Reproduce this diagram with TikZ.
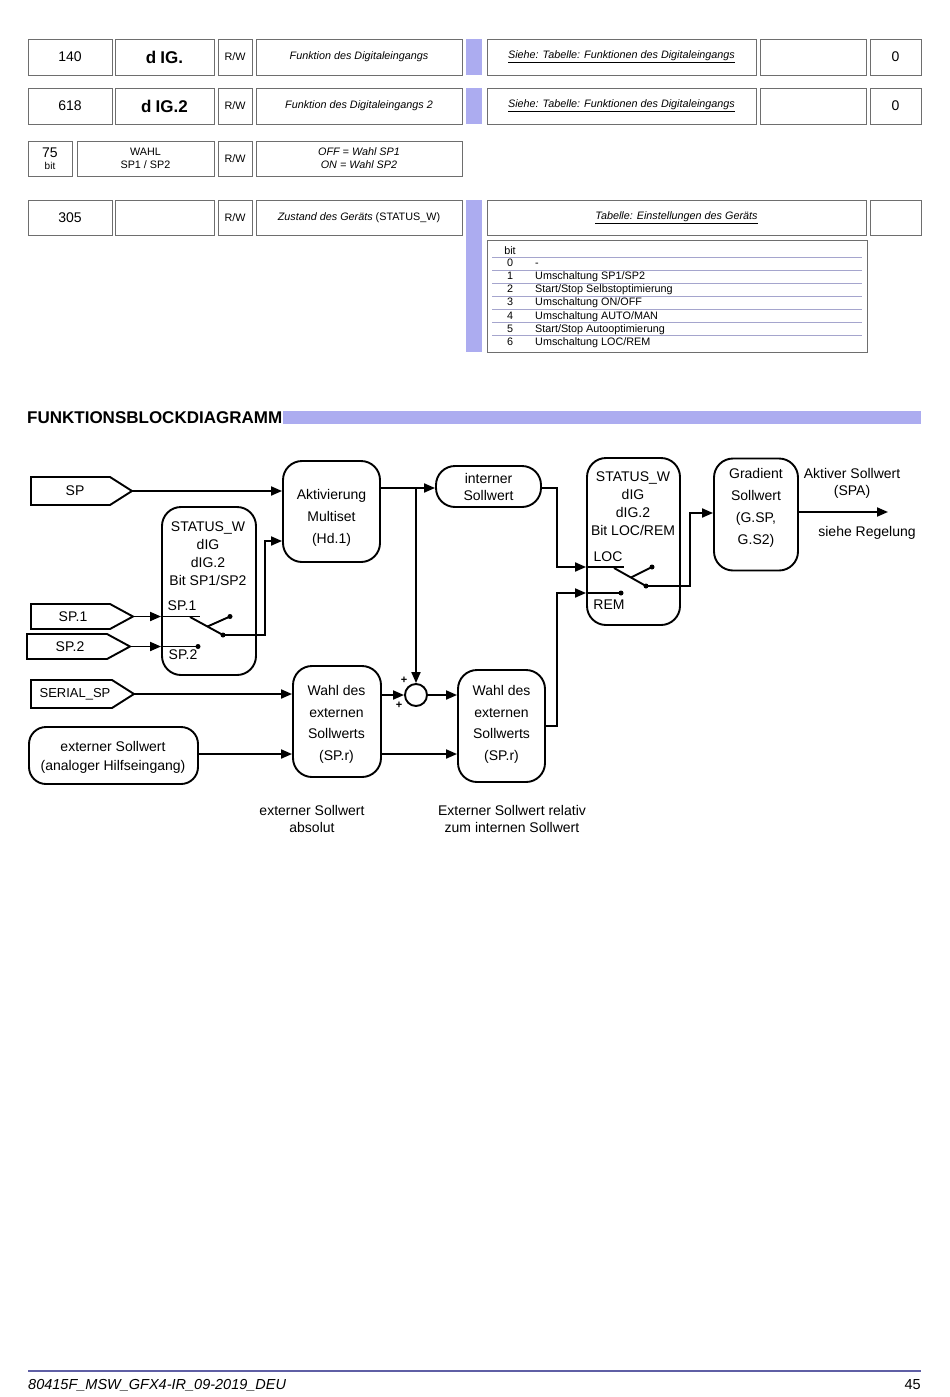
\documentclass[tikz,border=0pt]{standalone}
\usepackage{fontspec}
\setmainfont{Liberation Sans}
\usetikzlibrary{arrows.meta}
\definecolor{lav}{RGB}{172,172,240}
\definecolor{cellgray}{RGB}{110,110,110}
\definecolor{rulelav}{RGB}{165,165,205}
\definecolor{footblue}{RGB}{95,95,165}
\begin{document}
\begin{tikzpicture}[x=1pt,y=-1pt,
  cell/.style={draw=cellgray, line width=0.9pt, inner sep=0pt, align=center, font=\fontsize{10.8}{13}\selectfont},
  bar/.style={fill=lav, inner sep=0pt},
  wire/.style={line width=1.9pt},
  arr/.style={wire, -{Triangle[length=11pt,width=9pt]}},
  rbox/.style={draw, line width=1.9pt, rounded corners=19pt, inner sep=0pt},
  dtext/.style={inner sep=0pt, align=center, font=\fontsize{14}{16}\selectfont},
  tag/.style={draw, line width=1.9pt, line join=miter},
  dot/.style={circle, fill, inner sep=0pt, minimum size=5pt},
  btxt/.style={inner sep=0pt, font=\fontsize{10.8}{12}\selectfont}
]
\useasboundingbox (0,0) rectangle (950,1397);
\fill[white] (0,0) rectangle (950,1397);

% ---------- row 1 ----------
\node[cell, minimum width=84pt, minimum height=36pt] (r1a) at (70,57) {\fontsize{14}{16}\selectfont 140};
\node[cell, minimum width=99pt, minimum height=36pt] (r1b) at (164.5,57) {\fontsize{17}{17}\selectfont\bfseries d\hspace{4pt}IG.};
\node[cell, minimum width=34pt, minimum height=36pt] (r1c) at (235,57) {R/W};
\node[cell, minimum width=206pt, minimum height=36pt] (r1d) at (359,57) {\itshape Funktion des Digitaleingangs};
\node[bar, minimum width=16pt, minimum height=36pt] (r1bar) at (474,57) {};
\node[cell, minimum width=269pt, minimum height=36pt] (r1e) at (621.5,57) {\itshape\underline{Siehe: Tabelle: Funktionen des Digitaleingangs}};
\node[cell, minimum width=106pt, minimum height=36pt] (r1f) at (813,57) {};
\node[cell, minimum width=51pt, minimum height=36pt] (r1g) at (895.5,57) {\fontsize{14}{16}\selectfont 0};

% ---------- row 2 ----------
\node[cell, minimum width=84pt, minimum height=36pt] (r2a) at (70,106) {\fontsize{14}{16}\selectfont 618};
\node[cell, minimum width=99pt, minimum height=36pt] (r2b) at (164.5,106) {\fontsize{17}{17}\selectfont\bfseries d\hspace{4pt}IG.2};
\node[cell, minimum width=34pt, minimum height=36pt] (r2c) at (235,106) {R/W};
\node[cell, minimum width=206pt, minimum height=36pt] (r2d) at (359,106) {\itshape Funktion des Digitaleingangs 2};
\node[bar, minimum width=16pt, minimum height=36pt] (r2bar) at (474,106) {};
\node[cell, minimum width=269pt, minimum height=36pt] (r2e) at (621.5,106) {\itshape\underline{Siehe: Tabelle: Funktionen des Digitaleingangs}};
\node[cell, minimum width=106pt, minimum height=36pt] (r2f) at (813,106) {};
\node[cell, minimum width=51pt, minimum height=36pt] (r2g) at (895.5,106) {\fontsize{14}{16}\selectfont 0};

% ---------- row 3 ----------
\node[cell, minimum width=44pt, minimum height=35pt] (r3a) at (50,158.5) {{\fontsize{14}{14}\selectfont 75}\\[-1pt]{\fontsize{10}{11}\selectfont bit}};
\node[cell, minimum width=137pt, minimum height=35pt] (r3b) at (145.5,158.5) {WAHL\\SP1 / SP2};
\node[cell, minimum width=34pt, minimum height=35pt] (r3c) at (235,158.5) {R/W};
\node[cell, minimum width=206pt, minimum height=35pt] (r3d) at (359,158.5) {\itshape OFF = Wahl SP1\\\itshape ON = Wahl SP2};

% ---------- row 4 ----------
\node[cell, minimum width=84pt, minimum height=35pt] (r4a) at (70,217.5) {\fontsize{14}{16}\selectfont 305};
\node[cell, minimum width=99pt, minimum height=35pt] (r4b) at (164.5,217.5) {};
\node[cell, minimum width=34pt, minimum height=35pt] (r4c) at (235,217.5) {R/W};
\node[cell, minimum width=206pt, minimum height=35pt] (r4d) at (359,217.5) {\textit{Zustand des Geräts} (STATUS\_W)};
\node[bar, minimum width=16pt, minimum height=152pt] (r4bar) at (474,276) {};
\node[cell, minimum width=379pt, minimum height=35pt] (r4e) at (676.5,217.5) {\itshape\underline{Tabelle: Einstellungen des Geräts}};
\node[cell, minimum width=51pt, minimum height=35pt] (r4g) at (895.5,217.5) {};

% ---------- bit table ----------
\node[cell, minimum width=380pt, minimum height=112pt] (bt) at (677,296) {};
\foreach \k in {0,...,6} {
  \draw[rulelav, line width=0.8pt] (492,257+13.1*\k) -- (862,257+13.1*\k);
}
\node[btxt] (bith) at (510,250.5) {bit};
\foreach \n/\t [count=\i from 0] in {0/{-},1/{Umschaltung SP1/SP2},2/{Start/Stop Selbstoptimierung},3/{Umschaltung ON/OFF},4/{Umschaltung AUTO/MAN},5/{Start/Stop Autooptimierung},6/{Umschaltung LOC/REM}} {
  \node[btxt, text height=8pt, text depth=2pt] (bn\i) at (510,263.6+13.1*\i) {\n};
  \node[btxt, anchor=west, text height=8pt, text depth=2pt] (bd\i) at (535,263.6+13.1*\i) {\t};
}

% ---------- header ----------
\node[inner sep=0pt, anchor=west, font=\fontsize{17}{18}\selectfont\bfseries] (hdr) at (27,418) {FUNKTIONSBLOCKDIAGRAMM};
\node[bar, minimum width=638pt, minimum height=13pt] (hbar) at (602,417.5) {};

% ---------- diagram: input tags ----------
\draw[tag] (31,477) -- (110,477) -- (132,491) -- (110,505) -- (31,505) -- cycle;
\coordinate (sptip) at (132,491);
\node[dtext] (sptxt) at (75,491) {SP};
\draw[tag] (31,604) -- (110,604) -- (133,616.5) -- (110,629) -- (31,629) -- cycle;
\coordinate (sp1tip) at (133,616.5);
\node[dtext] (sp1txt) at (73,616.5) {SP.1};
\draw[tag] (27,634) -- (107,634) -- (130,646.5) -- (107,659) -- (27,659) -- cycle;
\coordinate (sp2tip) at (130,646.5);
\node[dtext] (sp2txt) at (70,646.5) {SP.2};
\draw[tag] (31,680) -- (112,680) -- (134,694) -- (112,708) -- (31,708) -- cycle;
\coordinate (sertip) at (134,694);
\node[dtext, font=\fontsize{13}{15}\selectfont] (sertxt) at (75,694) {SERIAL\_SP};

% ---------- diagram: boxes ----------
\node[rbox, minimum width=169pt, minimum height=57pt, rounded corners=17pt] (ext) at (113.5,755.5) {};
\node[dtext, font=\fontsize{14}{19}\selectfont] (exttxt) at (113,757) {externer Sollwert\\(analoger Hilfseingang)};

\node[rbox, minimum width=94pt, minimum height=168pt] (st1) at (209,591) {};
\node[dtext, font=\fontsize{14}{18}\selectfont] (st1txt) at (208,554) {STATUS\_W\\dIG\\dIG.2\\Bit SP1/SP2};
\node[dtext] (sp1lab) at (182,606) {SP.1};
\node[dtext] (sp2lab) at (183,655) {SP.2};

\node[rbox, minimum width=97pt, minimum height=101pt] (akt) at (331.5,511.5) {};
\node[dtext, font=\fontsize{14}{22}\selectfont] (akttxt) at (331.5,518) {Aktivierung\\Multiset\\(Hd.1)};

\node[rbox, minimum width=105pt, minimum height=41pt, rounded corners=19pt] (int) at (488.5,486.5) {};
\node[dtext, font=\fontsize{14}{17}\selectfont] (inttxt) at (488.5,487) {interner\\Sollwert};

\node[rbox, minimum width=93pt, minimum height=167pt] (st2) at (633.5,541.5) {};
\node[dtext, font=\fontsize{14}{18}\selectfont] (st2txt) at (633,504) {STATUS\_W\\dIG\\dIG.2\\Bit LOC/REM};
\node[dtext] (loclab) at (608,557) {LOC};
\node[dtext] (remlab) at (609,605) {REM};

\node[rbox, minimum width=84pt, minimum height=112pt] (grad) at (756,514.5) {};
\node[dtext, font=\fontsize{14}{22}\selectfont] (gradtxt) at (756,508) {Gradient\\Sollwert\\(G.SP,\\G.S2)};

\node[rbox, minimum width=88pt, minimum height=111pt] (w1) at (337,721.5) {};
\node[dtext, font=\fontsize{14}{21.7}\selectfont] (w1txt) at (336.5,724.5) {Wahl des\\externen\\Sollwerts\\(SP.r)};
\node[rbox, minimum width=87pt, minimum height=112pt] (w2) at (501.5,726) {};
\node[dtext, font=\fontsize{14}{21.7}\selectfont] (w2txt) at (501.5,724.5) {Wahl des\\externen\\Sollwerts\\(SP.r)};

\node[circle, draw, line width=1.9pt, minimum size=22pt, inner sep=0pt] (sum) at (416,695) {};
\node[inner sep=0pt, font=\fontsize{11}{11}\selectfont\bfseries] (plus1) at (404,680) {+};
\node[inner sep=0pt, font=\fontsize{11}{11}\selectfont\bfseries] (plus2) at (399,705) {+};

% ---------- texts ----------
\node[dtext, font=\fontsize{14}{17}\selectfont] (spa) at (852,483.5) {Aktiver Sollwert\\(SPA)};
\node[dtext] (regel) at (867,533) {siehe Regelung};
\node[dtext, font=\fontsize{14}{17}\selectfont] (cap1) at (312,819) {externer Sollwert\\absolut};
\node[dtext, font=\fontsize{14}{17}\selectfont] (cap2) at (512,819) {Externer Sollwert relativ\\zum internen Sollwert};

% ---------- connectors ----------
\draw[arr] (sptip) -- (sptip -| akt.west);
\draw[arr] (sp1tip) -- (sp1tip -| st1.west);
\draw[wire] (sp1tip -| st1.west) -- (200,616.5);
\draw[arr] (sp2tip) -- (sp2tip -| st1.west);
\node[dot] (s1d) at (198,646.5) {};
\draw[wire] (sp2tip -| st1.west) -- (s1d.center);
% switch 1
\node[dot] (s1c) at (230,616.5) {};
\node[dot] (s1o) at (223,635) {};
\coordinate (s1a) at (190,617);
\draw[wire] (s1a) -- (s1o.center);
\draw[wire] (s1c.center) -- (207.5,626.5);
\coordinate (k1) at (265,541);
\draw[arr] (s1o.center) -| (k1) -- (k1 -| akt.west);

% Aktivierung output
\coordinate (j1) at (416,488);
\draw[wire] (akt.east |- j1) -- (j1);
\draw[arr] (j1) -- (j1 -| int.west);
\draw[arr] (j1) -- (sum.north);
\coordinate (k2) at (557,567);
\draw[arr] (int.east |- j1) -| (k2) -- (k2 -| st2.west);
\draw[wire] (k2 -| st2.west) -- (624,567);
% switch 2
\node[dot] (s2c) at (652,567) {};
\node[dot] (s2o) at (646,586) {};
\coordinate (s2a) at (614,568);
\draw[wire] (s2a) -- (s2o.center);
\draw[wire] (s2c.center) -- (631,577.5);
\coordinate (k3) at (690,513);
\draw[arr] (s2o.center) -| (k3) -- (k3 -| grad.west);
\node[dot] (s2d) at (621,593) {};
\coordinate (k4) at (557,593);
\draw[arr] (w2.east) -| (k4) -- (k4 -| st2.west);
\draw[wire] (k4 -| st2.west) -- (s2d.center);

% gradient output
\coordinate (spaend) at (888,512);
\draw[arr] (grad.east |- spaend) -- (spaend);

% lower part
\coordinate (k6) at (198,754);
\draw[arr] (ext.east |- k6) -- (k6 -| w1.west);
\draw[arr] (sertip) -- (sertip -| w1.west);
\draw[arr] (w1.east |- sum.west) -- (sum.west);
\draw[arr] (sum.east) -- (sum.east -| w2.west);
\coordinate (k5) at (381,754);
\draw[arr] (w1.east |- k5) -- (k5 -| w2.west);

% ---------- footer ----------
\draw[footblue, line width=1.3pt] (28,1371) -- (921,1371);
\node[inner sep=0pt, anchor=west, font=\fontsize{14.5}{16}\selectfont\itshape] (foot) at (28,1385) {80415F\_MSW\_GFX4-IR\_09-2019\_DEU};
\node[inner sep=0pt, anchor=east, font=\fontsize{14.5}{16}\selectfont] (page) at (921,1385) {45};
\end{tikzpicture}
\end{document}
